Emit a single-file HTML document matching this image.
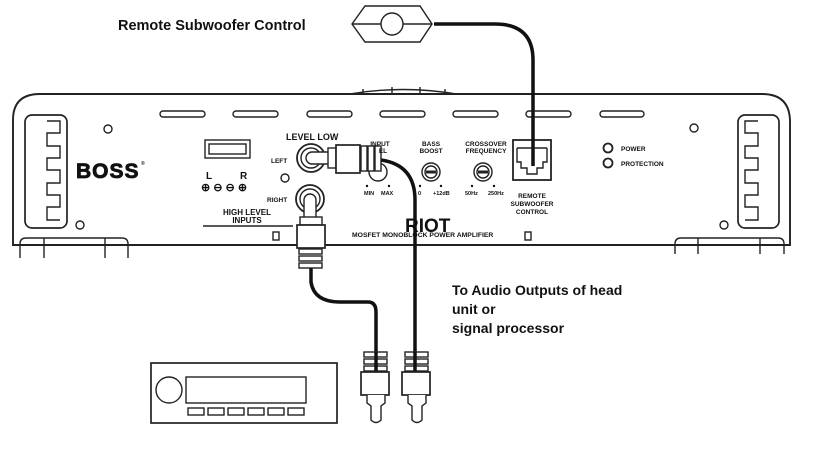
<!DOCTYPE html>
<html><head><meta charset="utf-8"><style>
body{margin:0;background:#fff;width:826px;height:457px;overflow:hidden}
svg{display:block}
text{font-family:"Liberation Sans",Arial,sans-serif;font-weight:bold;fill:#111}
</style></head><body>
<svg width="826" height="457" viewBox="0 0 826 457" xmlns="http://www.w3.org/2000/svg">
<g fill="none" stroke="#222" stroke-width="1.4">
<path d="M13,245 L13,120 Q13,94 40,94 L762,94 Q790,94 790,122 L790,245 Z" fill="#fff" stroke-width="1.9"/>
<path d="M350,94 Q403,85 456,94" />
<line x1="363" y1="93" x2="363" y2="89"/><line x1="392" y1="93" x2="392" y2="87"/><line x1="420" y1="93" x2="420" y2="87"/><line x1="445" y1="93" x2="445" y2="89"/>
<path d="M20,258 L20,244 Q20,238 26,238 L122,238 Q128,238 128,244 L128,258" fill="#fff"/>
<line x1="44" y1="238" x2="44" y2="258"/><line x1="105" y1="238" x2="105" y2="258"/>
<line x1="18" y1="245" x2="130" y2="245" stroke-width="1.9"/>
<path d="M675,254 L675,244 Q675,238 681,238 L778,238 Q784,238 784,244 L784,254" fill="#fff"/>
<line x1="698" y1="238" x2="698" y2="254"/><line x1="760" y1="238" x2="760" y2="254"/>
<line x1="672" y1="245" x2="790" y2="245" stroke-width="1.9"/>
<rect x="25" y="115" width="42" height="113" rx="7" stroke-width="1.7"/>
<path d="M47,121 L60,121 L60,133 L47,133 L47,146 L60,146 L60,158 L47,158 L47,170 L60,170 L60,183 L47,183 L47,195 L60,195 L60,207 L47,207 L47,220 L60,220"/>
<rect x="738" y="115" width="41" height="113" rx="7" stroke-width="1.7"/>
<path d="M758,121 L745,121 L745,133 L758,133 L758,146 L745,146 L745,158 L758,158 L758,170 L745,170 L745,183 L758,183 L758,195 L745,195 L745,207 L758,207 L758,220 L745,220"/>
<rect x="160" y="111" width="45" height="6" rx="3"/><rect x="233" y="111" width="45" height="6" rx="3"/>
<rect x="307" y="111" width="45" height="6" rx="3"/><rect x="380" y="111" width="45" height="6" rx="3"/>
<rect x="453" y="111" width="45" height="6" rx="3"/><rect x="526" y="111" width="45" height="6" rx="3"/>
<rect x="600" y="111" width="44" height="6" rx="3"/>
<circle cx="108" cy="129" r="4"/><circle cx="80" cy="225" r="4"/><circle cx="285" cy="178" r="4"/>
<circle cx="694" cy="128" r="4"/><circle cx="724" cy="225" r="4"/>
<rect x="205" y="140" width="45" height="18"/><rect x="209" y="144" width="37" height="10"/>
<circle cx="378" cy="172" r="9"/><circle cx="431" cy="172" r="9"/><circle cx="431" cy="172" r="6"/>
<circle cx="483" cy="172" r="9"/><circle cx="483" cy="172" r="6"/>
<line x1="426" y1="172" x2="436" y2="172" stroke-width="3"/><line x1="478" y1="172" x2="488" y2="172" stroke-width="3"/>
<rect x="513" y="140" width="38" height="40" stroke-width="1.8"/>
<path d="M517,148 L547,148 M517,148 L517,162 L521,162 L521,168 L527,168 L527,174 L537,174 L537,168 L543,168 L543,162 L547,162 L547,148"/>
<circle cx="608" cy="148" r="4.5" stroke-width="1.8"/><circle cx="608" cy="163" r="4.5" stroke-width="1.8"/>
<rect x="273" y="232" width="6" height="8"/><rect x="525" y="232" width="6" height="8"/>
<line x1="203" y1="226" x2="293" y2="226"/>
<circle cx="311" cy="158" r="14" stroke-width="1.8"/><circle cx="311" cy="158" r="10"/>
<circle cx="310" cy="199" r="14" stroke-width="1.8"/><circle cx="310" cy="199" r="10"/>
<rect x="306" y="152" width="30" height="12" rx="6" fill="#fff"/>
<rect x="328" y="148" width="8" height="20" fill="#fff"/>
<rect x="336" y="145" width="24" height="28" fill="#fff" stroke-width="1.7"/>
<rect x="361" y="146" width="6" height="25" fill="#fff"/><rect x="368" y="146" width="6" height="25" fill="#fff"/><rect x="375" y="146" width="6" height="25" fill="#fff"/>
<rect x="304" y="194" width="12" height="30" rx="6" fill="#fff"/>
<rect x="300" y="217" width="22" height="8" fill="#fff"/>
<rect x="297" y="225" width="28" height="23" fill="#fff" stroke-width="1.7"/>
<rect x="299" y="249" width="23" height="5" fill="#fff"/><rect x="299" y="256" width="23" height="5" fill="#fff"/><rect x="299" y="263" width="23" height="5" fill="#fff"/>
<polygon points="352,24 365,6 420,6 432,24 420,42 365,42" fill="#fff"/>
<line x1="352" y1="24" x2="432" y2="24"/>
<circle cx="392" cy="24" r="11" fill="#fff"/>
<rect x="151" y="363" width="186" height="60" stroke-width="1.7"/>
<circle cx="169" cy="390" r="13"/>
<rect x="186" y="377" width="120" height="26"/>
<rect x="188" y="408" width="16" height="7"/><rect x="208" y="408" width="16" height="7"/><rect x="228" y="408" width="16" height="7"/>
<rect x="248" y="408" width="16" height="7"/><rect x="268" y="408" width="16" height="7"/><rect x="288" y="408" width="16" height="7"/>
</g>
<g fill="#111">
<circle cx="367" cy="186" r="1.2"/><circle cx="389" cy="186" r="1.2"/>
<circle cx="420" cy="186" r="1.2"/><circle cx="441" cy="186" r="1.2"/>
<circle cx="472" cy="186" r="1.2"/><circle cx="494" cy="186" r="1.2"/>
</g>
<g fill="none" stroke="#111" stroke-width="3.5">
<path d="M434,24 L495,24 Q533,24 533,60 L533,166"/>
<path d="M381,160 Q415,165 415,200 L415,352"/>
<path d="M311,268 L311,282 Q314,302 340,302 L368,302 Q376,302 376,312 L376,352"/>
</g>
<g fill="#fff" stroke="#222" stroke-width="1.4">
<rect x="364" y="352" width="23" height="5"/><rect x="364" y="359" width="23" height="5"/><rect x="364" y="366" width="23" height="5"/>
<rect x="361" y="372" width="28" height="23" stroke-width="1.7"/>
<path d="M367,395 L367,403 L371,406 L371,420 Q376,425 381,420 L381,406 L385,403 L385,395"/>
<rect x="405" y="352" width="23" height="5"/><rect x="405" y="359" width="23" height="5"/><rect x="405" y="366" width="23" height="5"/>
<rect x="402" y="372" width="28" height="23" stroke-width="1.7"/>
<path d="M408,395 L408,403 L412,406 L412,420 Q417,425 422,420 L422,406 L426,403 L426,395"/>
</g>
<g stroke="#111" stroke-width="3.5"><line x1="376" y1="352" x2="376" y2="371"/><line x1="415" y1="352" x2="415" y2="371"/></g>
<text x="118" y="30" font-size="14.5">Remote Subwoofer Control</text>
<text x="76" y="178" font-size="21" letter-spacing="1" stroke="#111" stroke-width="0.8">BOSS</text>
<text x="141" y="165" font-size="5" font-weight="normal">®</text>
<text x="206" y="179" font-size="10">L</text><text x="240" y="179" font-size="10">R</text>
<text x="201" y="191" font-size="11">⊕ ⊖ ⊖ ⊕</text>
<text x="286" y="140" font-size="9">LEVEL  LOW</text>
<text x="271" y="163" font-size="6.5">LEFT</text><text x="267" y="202" font-size="6.5">RIGHT</text>
<text x="247" y="215" font-size="8" text-anchor="middle">HIGH LEVEL</text>
<text x="247" y="223" font-size="8" text-anchor="middle">INPUTS</text>
<text x="380" y="146" font-size="6.5" text-anchor="middle">INPUT</text><text x="383" y="153" font-size="6.5" text-anchor="middle">EL</text>
<text x="364" y="195" font-size="5.5">MIN</text><text x="381" y="195" font-size="5.5">MAX</text>
<text x="431" y="146" font-size="6.5" text-anchor="middle">BASS</text><text x="431" y="153" font-size="6.5" text-anchor="middle">BOOST</text>
<text x="418" y="195" font-size="5.5">0</text><text x="433" y="195" font-size="5.5">+12dB</text>
<text x="486" y="146" font-size="6.5" text-anchor="middle">CROSSOVER</text><text x="486" y="153" font-size="6.5" text-anchor="middle">FREQUENCY</text>
<text x="465" y="195" font-size="5.5">50Hz</text><text x="488" y="195" font-size="5.5">250Hz</text>
<text x="532" y="198" font-size="6.5" text-anchor="middle">REMOTE</text>
<text x="532" y="206" font-size="6.5" text-anchor="middle">SUBWOOFER</text>
<text x="532" y="214" font-size="6.5" text-anchor="middle">CONTROL</text>
<text x="621" y="151" font-size="6.5">POWER</text><text x="621" y="166" font-size="6.5">PROTECTION</text>
<text x="405" y="232" font-size="19">RIOT</text>
<text x="352" y="237" font-size="6.8">MOSFET MONOBLOCK POWER AMPLIFIER</text>
<text x="452" y="295" font-size="14">To Audio Outputs of head</text>
<text x="452" y="314" font-size="14">unit or</text>
<text x="452" y="333" font-size="14">signal processor</text>
</svg>
</body></html>
